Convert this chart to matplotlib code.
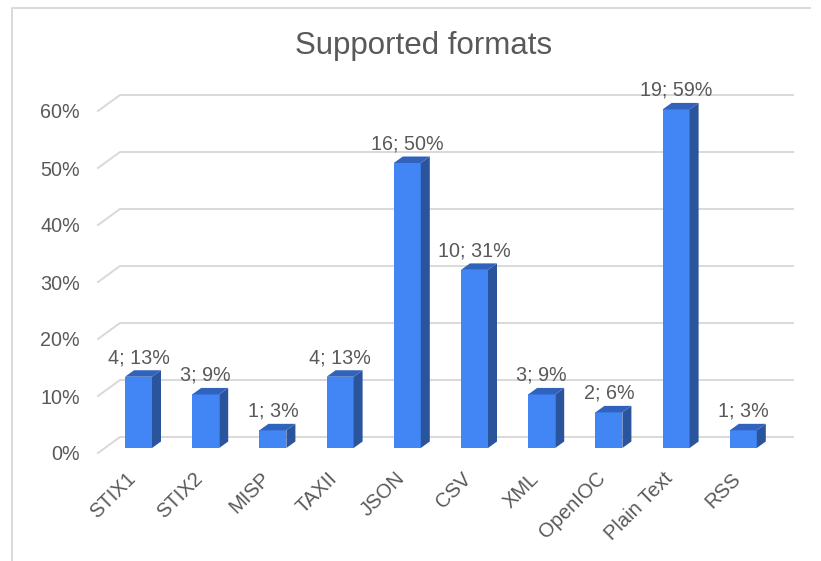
import matplotlib
matplotlib.use('Agg')
from matplotlib import pyplot as plt
from matplotlib.patches import Polygon, Rectangle
from matplotlib.lines import Line2D
from matplotlib.transforms import ScaledTranslation

plt.rcParams['font.family'] = ['Liberation Sans', 'DejaVu Sans']

formats = ['STIX1', 'STIX2', 'MISP', 'TAXII', 'JSON', 'CSV', 'XML', 'OpenIOC', 'Plain Text', 'RSS']
counts = [4, 3, 1, 4, 16, 10, 3, 2, 19, 1]
percents = [12.5, 9.4, 3.1, 12.5, 50, 31.25, 9.4, 6.25, 59.4, 3.1]
pct_labels = ['13%', '9%', '3%', '13%', '50%', '31%', '9%', '6%', '59%', '3%']
yticks = [0, 10, 20, 30, 40, 50, 60]

W, H = 821, 561
text_col = '#595959'
grid_col = '#d9d9d9'
front = '#4285f4'
side = '#2a549c'
top = '#3163bd'

fig = plt.figure(figsize=(W/100, H/100), dpi=100)
# frame of the pasted chart, only top and left are visible
fig.add_artist(Line2D([12/W, 12/W, 810/W], [0, 1-7.5/H, 1-7.5/H], color=grid_col, lw=1.4))

ax = fig.add_axes([98/W, 1-453/H, (793-98)/W, (453-95)/H])
px_y = 5.7     # pixels per percent
px_x = 67.2    # pixels per category
ax.set_ylim(0, (453-95)/px_y)
ax.set_xlim((98-138.5)/px_x, (793-138.5)/px_x)
for s in ax.spines.values():
    s.set_visible(False)

# floor depth and bar depth, in data units
fx, fy = 22/px_x, 16/px_y
bx, by = 9/px_x, 6.5/px_y
base = 5/px_y
half = 13.5/px_x

for t in yticks:
    ax.add_line(Line2D([ax.get_xlim()[0], ax.get_xlim()[0]+fx, ax.get_xlim()[1]],
                       [t, t+fy, t+fy], color=grid_col, lw=1.4, clip_on=False, zorder=1))

for i, p in enumerate(percents):
    y0, y1 = base, base+p
    l, r = i-half, i+half
    ax.add_patch(Rectangle((l, y0), r-l, p, fc=front, ec='none', zorder=3, clip_on=False))
    ax.add_patch(Polygon([(r, y0), (r+bx, y0+by), (r+bx, y1+by), (r, y1)], fc=side, ec='none', zorder=3, clip_on=False))
    ax.add_patch(Polygon([(l, y1), (r, y1), (r+bx, y1+by), (l+bx, y1+by)], fc=top, ec='none', zorder=3, clip_on=False))
    ax.text(i, y1+by+0.55, '{}; {}'.format(counts[i], pct_labels[i]), ha='center', va='bottom',
            fontsize=14.2, color=text_col, zorder=4, clip_on=False)

ax.set_yticks(yticks)
ax.set_yticklabels(['{}%'.format(t) for t in yticks], fontsize=14.2, color=text_col)
ax.set_xticks(range(len(formats)))
ax.set_xticklabels(formats, rotation=45, ha='right', va='center', rotation_mode='anchor', fontsize=14.5, color=text_col)
ax.tick_params(axis='y', length=0, pad=13)
ax.tick_params(axis='x', length=0, pad=14)
# nudge the rotated labels left and down
shift = ScaledTranslation(-6/100, -3/100, fig.dpi_scale_trans)
for lab in ax.get_xticklabels():
    lab.set_transform(lab.get_transform() + shift)

fig.text(423.5/W, 1-46/H, 'Supported formats', ha='center', va='center', fontsize=22.5, color=text_col)

fig.savefig('out.png', dpi=100)
